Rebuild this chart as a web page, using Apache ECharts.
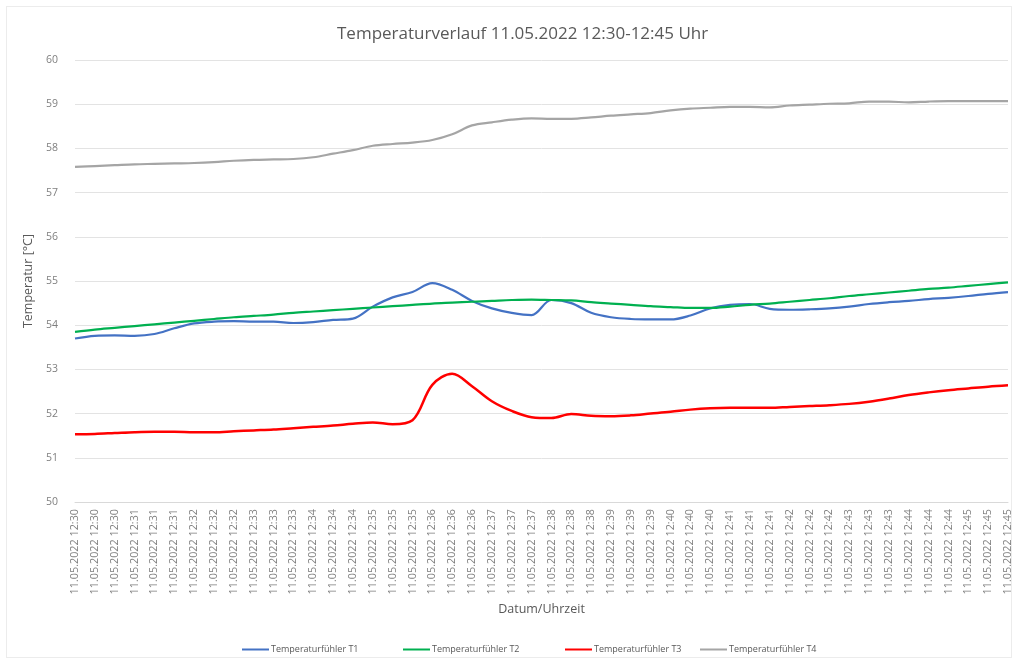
<!DOCTYPE html>
<html>
<head>
<meta charset="utf-8">
<script src="https://cdn.jsdelivr.net/npm/echarts@6/dist/echarts.min.js"></script>
<style>
  html, body { margin: 0; padding: 0; background: #fff; }
  #frame { position: absolute; left: 6px; top: 6px; width: 1004px; height: 650px; border: 1px solid #ececec; }
  #chart { width: 1016px; height: 662px; position: relative; }
</style>
</head>
<body>
<div id="frame"></div>
<div id="chart"></div>
<script>
// Zeitachse: Messpunkte alle 20 Sekunden
var zeiten = [
  '11.05.2022 12:30', '11.05.2022 12:30', '11.05.2022 12:30',
  '11.05.2022 12:31', '11.05.2022 12:31', '11.05.2022 12:31',
  '11.05.2022 12:32', '11.05.2022 12:32', '11.05.2022 12:32',
  '11.05.2022 12:33', '11.05.2022 12:33', '11.05.2022 12:33',
  '11.05.2022 12:34', '11.05.2022 12:34', '11.05.2022 12:34',
  '11.05.2022 12:35', '11.05.2022 12:35', '11.05.2022 12:35',
  '11.05.2022 12:36', '11.05.2022 12:36', '11.05.2022 12:36',
  '11.05.2022 12:37', '11.05.2022 12:37', '11.05.2022 12:37',
  '11.05.2022 12:38', '11.05.2022 12:38', '11.05.2022 12:38',
  '11.05.2022 12:39', '11.05.2022 12:39', '11.05.2022 12:39',
  '11.05.2022 12:40', '11.05.2022 12:40', '11.05.2022 12:40',
  '11.05.2022 12:41', '11.05.2022 12:41', '11.05.2022 12:41',
  '11.05.2022 12:42', '11.05.2022 12:42', '11.05.2022 12:42',
  '11.05.2022 12:43', '11.05.2022 12:43', '11.05.2022 12:43',
  '11.05.2022 12:44', '11.05.2022 12:44', '11.05.2022 12:44',
  '11.05.2022 12:45', '11.05.2022 12:45', '11.05.2022 12:45'
];

var t1 = [53.70, 53.76, 53.77, 53.76, 53.80, 53.93, 54.04, 54.08, 54.09, 54.08,
          54.08, 54.05, 54.07, 54.12, 54.15, 54.42, 54.63, 54.75, 54.95, 54.80,
          54.55, 54.38, 54.28, 54.23, 54.57, 54.50, 54.28, 54.18, 54.14, 54.13,
          54.13, 54.22, 54.38, 54.46, 54.48, 54.37, 54.35, 54.36, 54.38, 54.42,
          54.48, 54.52, 54.55, 54.59, 54.62, 54.66, 54.71, 54.75];

var t2 = [53.85, 53.90, 53.94, 53.98, 54.02, 54.06, 54.10, 54.14, 54.18, 54.21,
          54.24, 54.28, 54.31, 54.34, 54.37, 54.40, 54.43, 54.46, 54.49, 54.51,
          54.53, 54.55, 54.57, 54.58, 54.57, 54.56, 54.52, 54.49, 54.46, 54.43,
          54.41, 54.39, 54.39, 54.42, 54.46, 54.49, 54.53, 54.57, 54.61, 54.66,
          54.70, 54.74, 54.78, 54.82, 54.85, 54.89, 54.93, 54.97];

var t3 = [51.53, 51.54, 51.56, 51.58, 51.59, 51.59, 51.58, 51.58, 51.60, 51.62,
          51.64, 51.67, 51.70, 51.73, 51.77, 51.80, 51.76, 51.85, 52.65, 52.90,
          52.62, 52.28, 52.06, 51.92, 51.90, 51.99, 51.95, 51.94, 51.96, 52.00,
          52.04, 52.09, 52.12, 52.13, 52.13, 52.13, 52.15, 52.17, 52.19, 52.22,
          52.27, 52.34, 52.42, 52.48, 52.53, 52.57, 52.61, 52.64];

var t4 = [57.58, 57.60, 57.62, 57.64, 57.65, 57.66, 57.67, 57.69, 57.72, 57.74,
          57.75, 57.76, 57.80, 57.88, 57.96, 58.06, 58.10, 58.13, 58.19, 58.32,
          58.52, 58.59, 58.65, 58.68, 58.67, 58.67, 58.70, 58.74, 58.77, 58.80,
          58.86, 58.90, 58.92, 58.94, 58.94, 58.93, 58.97, 58.99, 59.01, 59.02,
          59.06, 59.06, 59.04, 59.06, 59.07, 59.07, 59.07, 59.07];

var namen = ['Temperaturfühler T1', 'Temperaturfühler T2', 'Temperaturfühler T3', 'Temperaturfühler T4'];
var farben = ['#4472C4', '#00B050', '#FF0000', '#A5A5A5'];
var reihen = [t1, t2, t3, t4];
var legendeLinks = [237, 398, 560, 695];

var chart = echarts.init(document.getElementById('chart'));

// Serien aus den Arrays bauen
var series = [];
reihen.map(function(werte, i){
    series.push({
        name: namen[i],
        type: 'line',
        data: werte,
        smooth: 0.35,
        symbol: 'none',
        lineStyle: { color: farben[i], width: i == 2 ? 2.5 : 2.2 },
        itemStyle: { color: farben[i] }
    });
});

// je Eintrag eine eigene Legende (Abstände wie im Original)
var legends = [];
namen.map(function(n, i){
    legends.push({
        data: [n],
        left: legendeLinks[i],
        top: 640,
        icon: 'rect',
        itemWidth: 27,
        itemHeight: 2,
        itemGap: 0,
        textStyle: { fontSize: 9, color: '#595959', padding: [0, 0, 0, -3] }
    });
});

chart.setOption({
    backgroundColor: 'transparent',
    animation: false,
    textStyle: { fontFamily: 'Open Sans, Liberation Sans, sans-serif' },
    title: {
        text: 'Temperaturverlauf 11.05.2022 12:30-12:45 Uhr',
        left: 332,
        top: 21,
        textStyle: { fontSize: 17, fontWeight: 'normal', color: '#595959' }
    },
    legend: legends,
    grid: { left: 75, right: 8, top: 60, bottom: 160 },
    xAxis: {
        type: 'category',
        data: zeiten,
        boundaryGap: false,
        name: 'Datum/Uhrzeit',
        nameLocation: 'middle',
        nameGap: 101,
        nameTextStyle: { fontSize: 12.5, color: '#595959' },
        axisLine: { lineStyle: { color: '#d9d9d9' } },
        axisTick: { show: false },
        axisLabel: { rotate: 90, interval: 0, fontSize: 10.8, color: '#7f7f7f', margin: 7 }
    },
    yAxis: {
        type: 'value',
        min: 50,
        max: 60,
        interval: 1,
        name: 'Temperatur [°C]',
        nameLocation: 'middle',
        nameRotate: 90,
        nameGap: 32,
        nameTextStyle: { fontSize: 12.5, color: '#595959' },
        axisLine: { show: false },
        axisTick: { show: false },
        axisLabel: { fontSize: 10.5, color: '#7f7f7f', margin: 17 },
        splitLine: { lineStyle: { color: '#e3e3e3' } }
    },
    series: series
});
</script>
</body>
</html>
